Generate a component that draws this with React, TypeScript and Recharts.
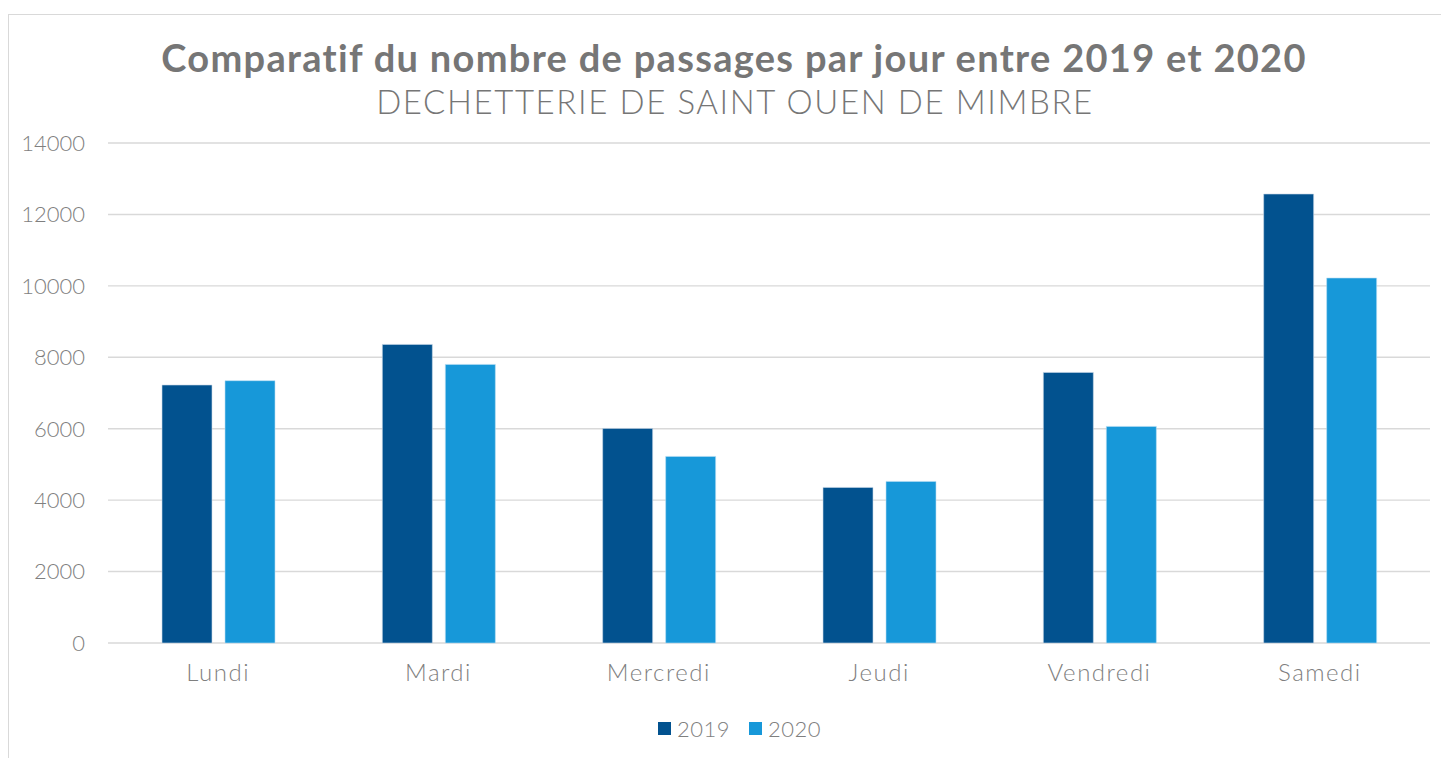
import { Bar, BarChart, CartesianGrid, Legend, XAxis, YAxis } from 'recharts';

const days = ['Lundi', 'Mardi', 'Mercredi', 'Jeudi', 'Vendredi', 'Samedi'];
const passages2019 = [7224, 8361, 6009, 4357, 7577, 12572];
const passages2020 = [7345, 7801, 5225, 4525, 6065, 10220];
const yTicks = [0, 2000, 4000, 6000, 8000, 10000, 12000, 14000];

const data = days.map((day, i) => ({
  day,
  y2019: passages2019[i],
  y2020: passages2020[i],
}));

const FONT = 'Lato, "DejaVu Sans", sans-serif';
const TEXT_GRAY = '#7f7f7f';
const DARK_BLUE = '#02528f';
const LIGHT_BLUE = '#1798d9';

const legendItems = [
  { label: '2019', color: DARK_BLUE },
  { label: '2020', color: LIGHT_BLUE },
];

function LegendContent() {
  return (
    <div
      style={{
        display: 'flex',
        alignItems: 'center',
        height: 24,
        paddingLeft: 650,
        fontFamily: FONT,
        fontWeight: 300,
        fontSize: 22,
        letterSpacing: 0.5,
        color: TEXT_GRAY,
      }}
    >
      {legendItems.map((item) => (
        <div key={item.label} style={{ display: 'flex', alignItems: 'center', marginRight: 19 }}>
          <span style={{ width: 13, height: 13, background: item.color, marginRight: 6 }} />
          <span>{item.label}</span>
        </div>
      ))}
    </div>
  );
}

export default function App() {
  return (
    <div style={{ position: 'relative', width: 1441, height: 750, overflow: 'hidden', background: '#fff' }}>
      <div
        style={{
          position: 'absolute',
          left: 0,
          top: 6,
          width: 1500,
          height: 800,
          border: '1px solid #d9d9d9',
          boxSizing: 'border-box',
        }}
      />
      <svg width={1441} height={130} style={{ position: 'absolute', left: 0, top: 0 }}>
        <text
          x={726}
          y={64}
          textAnchor="middle"
          fontFamily={FONT}
          fontWeight={700}
          fontSize={38}
          letterSpacing={1.3}
          fill="#767676"
        >
          Comparatif du nombre de passages par jour entre 2019 et 2020
        </text>
        <text
          x={727}
          y={106}
          textAnchor="middle"
          fontFamily={FONT}
          fontWeight={300}
          fontSize={33}
          letterSpacing={1.6}
          fill="#767676"
        >
          DECHETTERIE DE SAINT OUEN DE MIMBRE
        </text>
      </svg>
      <div style={{ position: 'absolute', left: 0, top: 0 }}>
        <BarChart
          width={1441}
          height={750}
          data={data}
          margin={{ top: 135, right: 19, left: 10, bottom: 18 }}
          barSize={50}
          barGap={13}
        >
          <CartesianGrid vertical={false} stroke="#d9d9d9" strokeWidth={1.4} />
          <XAxis
            dataKey="day"
            height={73}
            axisLine={false}
            tickLine={false}
            tickSize={0}
            tickMargin={21}
            tick={{ fill: TEXT_GRAY, fontSize: 24, fontFamily: FONT, fontWeight: 300, letterSpacing: 1.5 }}
          />
          <YAxis
            width={90}
            domain={[0, 14000]}
            ticks={yTicks}
            axisLine={false}
            tickLine={false}
            tickSize={0}
            tickMargin={23}
            tick={{ fill: TEXT_GRAY, fontSize: 22, fontFamily: FONT, fontWeight: 300 }}
          />
          <Legend verticalAlign="bottom" height={24} wrapperStyle={{ left: 0, width: 1441 }} content={<LegendContent />} />
          <Bar dataKey="y2019" name="2019" fill={DARK_BLUE} stroke="#c9d9e8" strokeWidth={0.6} isAnimationActive={false} />
          <Bar dataKey="y2020" name="2020" fill={LIGHT_BLUE} stroke="#b9def3" strokeWidth={0.6} isAnimationActive={false} />
        </BarChart>
      </div>
    </div>
  );
}
